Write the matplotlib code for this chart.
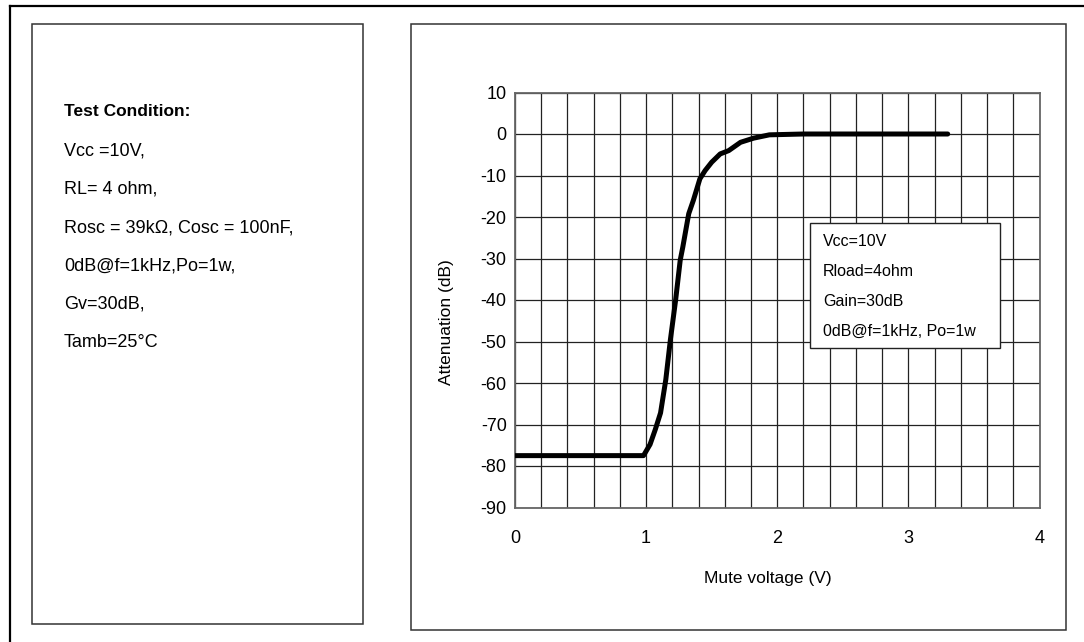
import numpy as np
import matplotlib.pyplot as plt
from matplotlib.patches import Rectangle
from matplotlib.lines import Line2D

# data
volt = [0.0, 0.98, 1.03, 1.07, 1.11, 1.15, 1.185, 1.225, 1.26, 1.28, 1.325,
        1.36, 1.41, 1.45, 1.50, 1.565, 1.63, 1.72, 1.82, 1.94, 2.2, 3.3]
atten = [-77.5, -77.5, -74.8, -71.2, -67.2, -59.2, -49.6, -40.0, -30.4, -27.2, -19.2,
         -16.0, -10.8, -8.8, -6.8, -4.8, -4.0, -2.0, -1.0, -0.2, 0.0, 0.0]

x_ticks = [0, 1, 2, 3, 4]
y_ticks = [10, 0, -10, -20, -30, -40, -50, -60, -70, -80, -90]

cond_title = "Test Condition:"
cond_lines = ["Vcc =10V,", "RL= 4 ohm,", "Rosc = 39k\u03a9, Cosc = 100nF,",
              "0dB@f=1kHz,Po=1w,", "Gv=30dB,", "Tamb=25\u00b0C"]
legend_lines = ["Vcc=10V", "Rload=4ohm", "Gain=30dB", "0dB@f=1kHz, Po=1w"]

plt.rcParams['font.family'] = ['Liberation Sans', 'DejaVu Sans']
plt.rcParams['axes.unicode_minus'] = False

W, H = 1084, 642
fig = plt.figure(figsize=(W / 100, H / 100), dpi=100)


def fx(px):
    return px / W


def fy(py):
    return 1 - py / H


def box(x0, y0, x1, y1, **kw):
    fig.add_artist(Rectangle((fx(x0), fy(y1)), fx(x1) - fx(x0), fy(y0) - fy(y1),
                             transform=fig.transFigure, fill=False, **kw))


# outer frame (only top and left visible)
fig.add_artist(Line2D([fx(10), fx(10)], [fy(6), 0], color='black', lw=1.6))
fig.add_artist(Line2D([fx(10), 1], [fy(6), fy(6)], color='black', lw=1.6))

# the two panels
box(31.5, 24, 363, 624, ec='#333333', lw=1.1)
box(410.5, 24, 1065.5, 630, ec='#333333', lw=1.1)

# test condition text
fig.text(fx(64), fy(112), cond_title, fontsize=12.5, fontweight='bold', va='center')
for i, s in enumerate(cond_lines):
    fig.text(fx(64), fy(151 + i * 38.3), s, fontsize=13, va='center')

# chart
ax = fig.add_axes([fx(515), fy(507.5), fx(1039.5) - fx(515), fy(92.5) - fy(507.5)])
ax.plot(volt, atten, color='black', lw=3.6, solid_capstyle='round', zorder=3)
ax.set_xlim(0, 4)
ax.set_ylim(-90, 10)
ax.set_xticks(x_ticks)
ax.set_xticks(np.arange(0, 4.01, 0.2), minor=True)
ax.set_yticks(y_ticks)
ax.tick_params(which='both', length=0)
ax.tick_params(axis='x', pad=16, labelsize=13)
ax.tick_params(axis='y', pad=6, labelsize=13)
ax.grid(which='both', axis='x', color='#222222', lw=0.9)
ax.grid(which='major', axis='y', color='#222222', lw=0.9)
ax.set_axisbelow(True)
for sp in ax.spines.values():
    sp.set_color('#666666')
    sp.set_linewidth(1.3)

fig.text(fx(768), fy(578), "Mute voltage (V)", fontsize=12.5, ha='center', va='center')
fig.text(fx(447), fy(322), "Attenuation (dB)", fontsize=12.5, ha='center', va='center',
         rotation=90)

# inner legend box
fig.add_artist(Rectangle((fx(810), fy(347.5)), fx(1000) - fx(810), fy(222.5) - fy(347.5),
                         transform=fig.transFigure, fc='white', ec='#222222', lw=1.0,
                         zorder=5))
for i, s in enumerate(legend_lines):
    fig.text(fx(823), fy(241.5 + i * 30), s, fontsize=11.5, va='center', zorder=6)

fig.savefig("out.png", dpi=100)
